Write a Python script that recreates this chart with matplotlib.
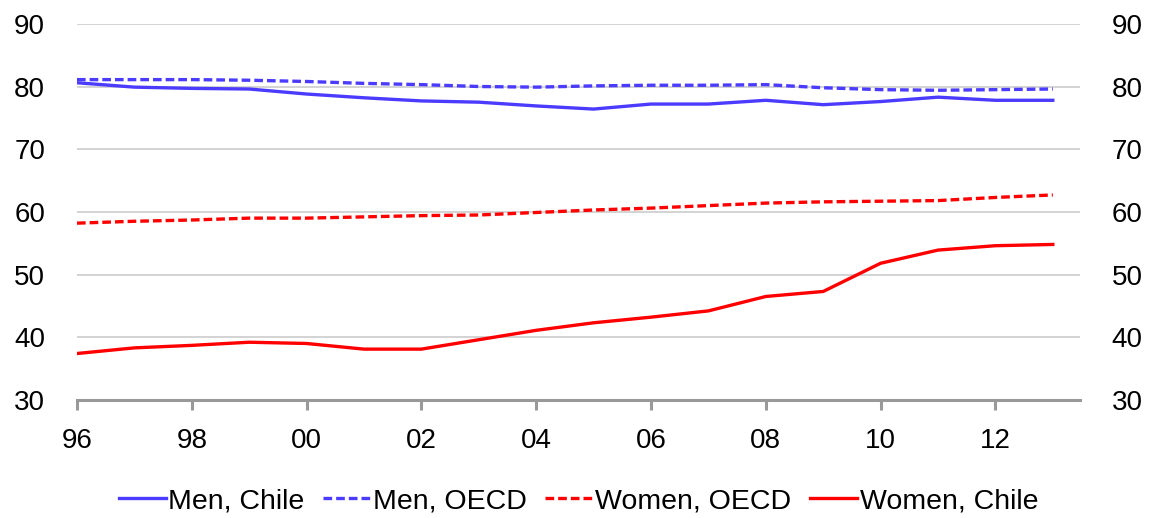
import matplotlib
matplotlib.use("Agg")
import matplotlib.pyplot as plt

# Employment rates, 1996-2013
years = list(range(1996, 2014))
men_chile = [80.6, 79.9, 79.7, 79.6, 78.8, 78.2, 77.7, 77.5, 76.9, 76.4,
             77.2, 77.2, 77.8, 77.1, 77.6, 78.3, 77.8, 77.8]
men_oecd = [81.1, 81.1, 81.1, 81.0, 80.8, 80.5, 80.3, 80.0, 79.9, 80.1,
            80.2, 80.2, 80.3, 79.8, 79.5, 79.4, 79.5, 79.6]
women_oecd = [58.2, 58.5, 58.7, 59.0, 59.0, 59.2, 59.4, 59.5, 59.9, 60.3,
              60.6, 61.0, 61.4, 61.6, 61.7, 61.8, 62.3, 62.7]
women_chile = [37.4, 38.3, 38.7, 39.2, 39.0, 38.1, 38.1, 39.6, 41.1, 42.3,
               43.2, 44.2, 46.5, 47.3, 51.8, 53.9, 54.6, 54.8]

tick_years = list(range(1996, 2013, 2))
tick_labels = [str(y)[-2:] for y in tick_years]

blue = "#4B3BFF"
red = "#FF0000"
dash = (0, (2.6, 1.2))

plt.rcParams["font.family"] = ["Liberation Sans", "DejaVu Sans"]

fig = plt.figure(figsize=(11.54, 5.18), dpi=100)
ax = fig.add_axes([0.0667, 0.228, 0.869, 0.726])

ax.plot(years, men_chile, color=blue, lw=2.4, label="Men, Chile")
ax.plot(years, men_oecd, color=blue, lw=2.4, ls=dash, label="Men, OECD")
ax.plot(years, women_oecd, color=red, lw=2.4, ls=dash, label="Women, OECD")
ax.plot(years, women_chile, color=red, lw=2.4, label="Women, Chile")

ax.set_xlim(1996, 2013.47)
ax.set_ylim(30, 90)
ax.set_yticks(range(30, 91, 10))
ax.set_xticks(tick_years)
ax.set_xticklabels(tick_labels)
ax.grid(axis="y", color="#cccccc", lw=1.2)
ax.set_axisbelow(True)

for s in ["left", "right", "top"]:
    ax.spines[s].set_visible(False)
ax.spines["bottom"].set_color("#999999")
ax.spines["bottom"].set_linewidth(2.2)
ax.tick_params(axis="x", colors="#999999", length=7.5, width=2.2, labelcolor="black",
               labelsize=20, pad=13)
ax.tick_params(axis="y", length=0, labelsize=20, pad=23,
               labelleft=True, labelright=True)

ax.legend(loc="center", bbox_to_anchor=(0.5, -0.27), ncol=4, frameon=False,
          fontsize=20.5, handlelength=1.65, handletextpad=0.1, columnspacing=0.65)

fig.savefig("out.png", dpi=100)
